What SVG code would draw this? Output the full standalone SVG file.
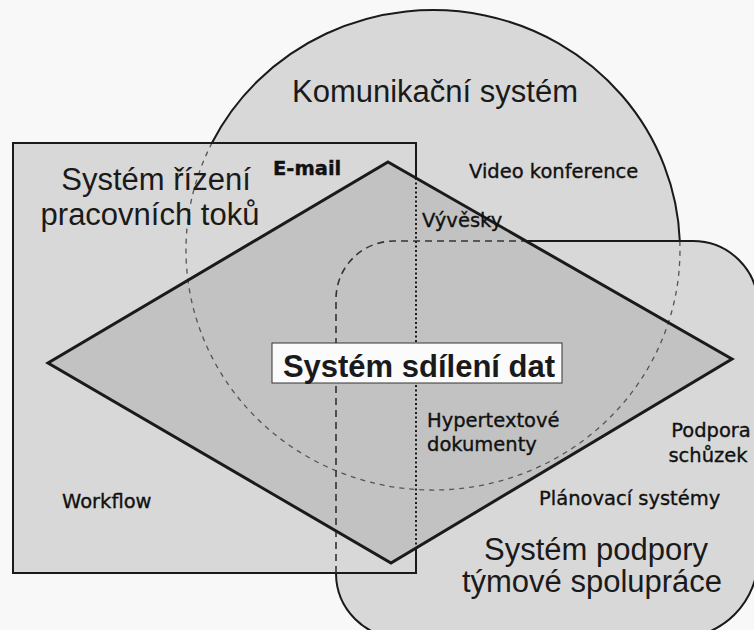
<svg xmlns="http://www.w3.org/2000/svg" width="754" height="630" viewBox="0 0 754 630">
  <style>
    .fill { fill: #d8d8d8; stroke: none; }
    .dfill { fill: #c2c2c2; stroke: none; }
    .solid { fill: none; stroke: #1a1a1a; stroke-width: 2; }
    .thick { fill: none; stroke: #1a1a1a; stroke-width: 3; stroke-linejoin: miter; }
    .dash { fill: none; stroke: #333; stroke-width: 1.6; stroke-dasharray: 7 5; }
    .dashl { fill: none; stroke: #555; stroke-width: 1.3; stroke-dasharray: 5 5; }
    .dot { fill: none; stroke: #1a1a1a; stroke-width: 2; stroke-dasharray: 2 2.5; }
    .big { font-family: "Liberation Sans", Arial, sans-serif; font-size: 31px; fill: #1a1a1a; text-anchor: middle; }
    .small { font-family: "DejaVu Sans", Verdana, sans-serif; font-size: 19.5px; fill: #111; stroke: #111; stroke-width: 0.35; }
  </style>
  <rect x="0" y="0" width="754" height="630" fill="#f8f8f8"/>

  <!-- fills -->
  <ellipse class="fill" cx="433" cy="250" rx="247" ry="240"/>
  <rect class="fill" x="13" y="143" width="403" height="430"/>
  <path class="fill" d="M394,241 H693 A65,65 0 0 1 758,306 V558 A80,80 0 0 1 678,638 H401 A65,65 0 0 1 336,573 V299 A58,58 0 0 1 394,241 Z"/>
  <path class="dfill" d="M388,162 L732,359 L391,563 L48,363 Z"/>

  <g id="komunikacni-system">
    <path class="solid" d="M211.9,143 A247,240 0 0 1 679.8,241"/>
    <path class="dashl" d="M679.8,241 A247,240 0 1 1 211.9,143"/>
    <text class="big" x="435" y="102">Komunikační systém</text>
    <text class="small" x="469" y="178">Video konference</text>
  </g>

  <g id="system-rizeni-pracovnich-toku">
    <path class="solid" d="M416,178 V143 H13 V573 H416 V548"/>
    <path class="dot" d="M416,178 V548"/>
    <text class="big" x="156" y="190">Systém řízení</text>
    <text class="big" x="150" y="225">pracovních toků</text>
    <text class="small" x="62" y="508">Workflow</text>
    <text class="small" x="273" y="175" font-weight="bold" font-size="16.5" stroke-width="0">E-mail</text>
  </g>

  <g id="system-podpory-tymove-spoluprace">
    <path class="dash" d="M336,573 V299 A58,58 0 0 1 394,241 H526"/>
    <path class="solid" d="M526,241 H693 A65,65 0 0 1 758,306 V558 A80,80 0 0 1 678,638 H401 A65,65 0 0 1 336,573"/>
    <text class="big" x="596" y="560">Systém podpory</text>
    <text class="big" x="592" y="592">týmové spolupráce</text>
    <text class="small" x="711" y="437" text-anchor="middle">Podpora</text>
    <text class="small" x="708" y="462" text-anchor="middle">schůzek</text>
    <text class="small" x="539" y="505">Plánovací systémy</text>
  </g>

  <g id="system-sdileni-dat">
    <path class="thick" d="M388,162 L732,359 L391,563 L48,363 Z"/>
    <rect x="272" y="343" width="290" height="40" fill="#fbfbfb" stroke="#333" stroke-width="1"/>
    <text class="big" x="419" y="377" font-weight="bold" font-size="31.5">Systém sdílení dat</text>
    <text class="small" x="422" y="227">Vývěsky</text>
    <text class="small" x="427" y="427">Hypertextové</text>
    <text class="small" x="427" y="451">dokumenty</text>
  </g>
</svg>
